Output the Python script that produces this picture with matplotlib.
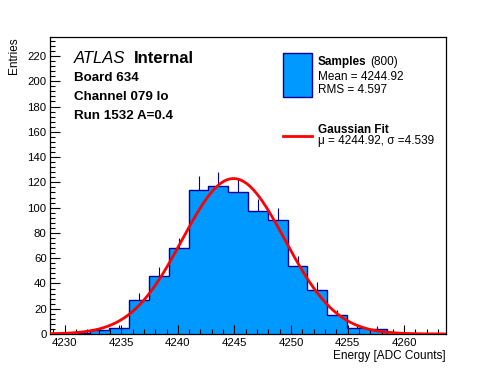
import numpy as np
import matplotlib
matplotlib.use("Agg")
import matplotlib.pyplot as plt
from matplotlib.patches import Rectangle
from matplotlib.lines import Line2D
from matplotlib.ticker import MultipleLocator

plt.rcParams['font.family'] = ['Liberation Sans', 'DejaVu Sans']

# ---- data ----
bin_low = 4228.7
bin_high = 4263.7
counts = [0, 1, 3, 5, 27, 46, 68, 114, 117, 112, 97, 90, 54, 35, 15, 5, 4, 0, 0, 0]
n_entries = 800
mean_val = 4244.92
rms_val = 4.597
fit_mu = 4244.92
fit_sigma = 4.539
fit_const = 123.0
x_ticks = [4230, 4235, 4240, 4245, 4250, 4255, 4260]
y_ticks = [0, 20, 40, 60, 80, 100, 120, 140, 160, 180, 200, 220]

W, H = 496, 372
fig = plt.figure(figsize=(W / 100, H / 100), dpi=100)
fx = lambda px: px / W
fy = lambda py: 1 - py / H

ax = fig.add_axes([fx(50), fy(334), fx(446) - fx(50), fy(37) - fy(334)])

fill_c = '#0099ff'
edge_c = '#000099'

counts_arr = np.array(counts, dtype=float)
edges = np.linspace(bin_low, bin_high, len(counts) + 1)
centers = 0.5 * (edges[:-1] + edges[1:])

ax.stairs(counts_arr, edges, fill=True, color=fill_c, linewidth=0, zorder=1)
ax.stairs(counts_arr, edges, fill=False, color=edge_c, linewidth=1.0, baseline=0, zorder=2)
nz = counts_arr > 0
ax.vlines(centers[nz], counts_arr[nz], counts_arr[nz] + np.sqrt(counts_arr[nz]),
          color=edge_c, linewidth=0.8, zorder=2)

xf = np.linspace(bin_low, bin_high, 400)
yf = fit_const * np.exp(-0.5 * ((xf - fit_mu) / fit_sigma) ** 2)
ax.plot(xf, yf, color='#ff0000', linewidth=2.0, zorder=3)

ax.set_xlim(bin_low, bin_high)
ax.set_ylim(0, 235)
ax.set_xticks(x_ticks)
ax.set_yticks(y_ticks)
ax.xaxis.set_minor_locator(MultipleLocator(1))
ax.yaxis.set_minor_locator(MultipleLocator(4))
ax.tick_params(axis='both', which='both', direction='in', top=False, right=False,
               labelsize=8.2, width=0.8)
ax.tick_params(axis='x', which='major', length=6.5, pad=2.8)
ax.tick_params(axis='x', which='minor', length=3.6)
ax.tick_params(axis='y', which='major', length=7.2, pad=2.4)
ax.tick_params(axis='y', which='minor', length=3.6)
for s in ax.spines.values():
    s.set_linewidth(0.9)

fig.text(fx(446), fy(358.5), 'Energy [ADC Counts]', ha='right', va='baseline', fontsize=8.5)
fig.text(fx(8.5), fy(37), 'Entries', ha='right', va='top', rotation=90, fontsize=8.5,
         rotation_mode='anchor')

# ATLAS label block
fig.text(fx(74), fy(63.3), 'ATLAS', style='italic', fontsize=12, va='baseline')
fig.text(fx(133.5), fy(63.3), 'Internal', fontweight='bold', fontsize=12, va='baseline')
fig.text(fx(74), fy(80.7), 'Board 634', fontweight='bold', fontsize=9.6, va='baseline')
fig.text(fx(74), fy(100), 'Channel 079 lo', fontweight='bold', fontsize=9.6, va='baseline')
fig.text(fx(74), fy(119), 'Run 1532 A=0.4', fontweight='bold', fontsize=9.6, va='baseline')

# legend
fig.patches.append(Rectangle((fx(283.3), fy(96.7)), fx(311.7) - fx(283.3), fy(53.3) - fy(96.7),
                             transform=fig.transFigure, facecolor=fill_c, edgecolor=edge_c,
                             linewidth=1.0))
fig.text(fx(317.7), fy(65), 'Samples', fontweight='bold', fontsize=8.5, va='baseline')
fig.text(fx(370), fy(65), f'({n_entries})', fontsize=8.5, va='baseline')
fig.text(fx(317.7), fy(80), f'Mean = {mean_val:.2f}', fontsize=8.5, va='baseline')
fig.text(fx(317.7), fy(93.3), f'RMS = {rms_val:.3f}', fontsize=8.5, va='baseline')

fig.lines.append(Line2D([fx(283.3), fx(311.7)], [fy(136), fy(136)], transform=fig.transFigure,
                        color='#ff0000', linewidth=2.0))
fig.text(fx(317.7), fy(132.7), 'Gaussian Fit', fontweight='bold', fontsize=8.5, va='baseline')
fig.text(fx(317.7), fy(144.3), f'\u03bc = {fit_mu:.2f}, \u03c3 ={fit_sigma:.3f}',
         fontsize=8.5, va='baseline')

fig.savefig('out.png', dpi=100)
